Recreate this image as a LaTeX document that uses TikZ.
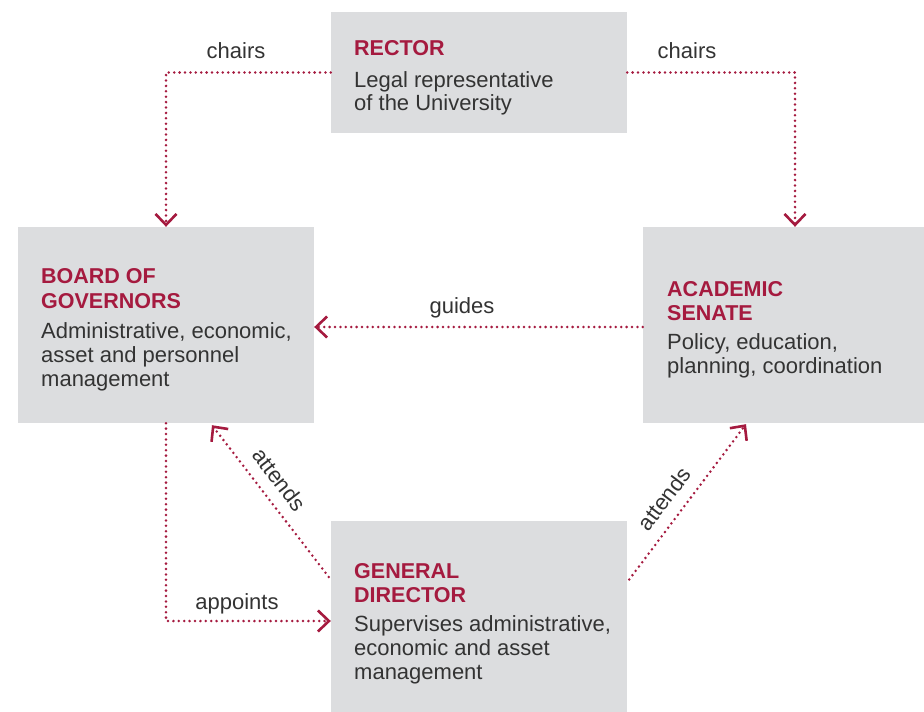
\documentclass[tikz,border=0pt]{standalone}
\usepackage{fontspec}
\setmainfont{Liberation Sans}
\usetikzlibrary{arrows.meta}
\definecolor{boxgray}{HTML}{DCDDDF}
\definecolor{ured}{HTML}{A51A3F}
\definecolor{txt}{HTML}{333333}
\tikzset{
  box/.style={fill=boxgray, draw=none, inner sep=0pt, minimum width=296pt},
  ln/.style={anchor=base west, inner sep=0pt, text=txt, font=\fontsize{22}{24}\selectfont},
  hd/.style={anchor=base west, inner sep=0pt, text=ured, font=\fontsize{21.5}{24}\selectfont\bfseries},
  lbl/.style={inner sep=0pt, text=txt, font=\fontsize{22}{24}\selectfont},
  conn/.style={draw=ured, line width=2.8pt, line cap=round, dash pattern=on 0pt off 5.4pt},
  tip/.style={-{Straight Barb[length=11pt,width=21pt,line width=2.6pt]}}
}
\begin{document}
\begin{tikzpicture}[x=1pt,y=-1pt]
\path[use as bounding box, fill=white] (0,0) rectangle (924,712);
% boxes
\node[box, minimum height=121pt] (rector) at (479,72.5) {};
\node[box, minimum height=196pt] (board) at (166,325) {};
\node[box, minimum width=281pt, minimum height=196pt] (senate) at (783.5,325) {};
\node[box, minimum height=191pt] (gd) at (479,616.5) {};
% rector text
\node[hd] (r1) at (354,55) {RECTOR};
\node[ln] (r2) at (354,87) {Legal representative};
\node[ln] (r3) at (354,110) {of the University};
% board text
\node[hd] (b1) at (41,283) {BOARD OF};
\node[hd] (b2) at (41,308) {GOVERNORS};
\node[ln] (b3) at (41,338) {Administrative, economic,};
\node[ln] (b4) at (41,362) {asset and personnel};
\node[ln] (b5) at (41,386) {management};
% senate text
\node[hd] (s1) at (667,296) {ACADEMIC};
\node[hd] (s2) at (667,320) {SENATE};
\node[ln] (s3) at (667,349) {Policy, education,};
\node[ln] (s4) at (667,373) {planning, coordination};
% general director text
\node[hd] (g1) at (354,578) {GENERAL};
\node[hd] (g2) at (354,602) {DIRECTOR};
\node[ln] (g3) at (354,631) {Supervises administrative,};
\node[ln] (g4) at (354,655) {economic and asset};
\node[ln] (g5) at (354,679) {management};
% connectors
\draw[conn, tip] (rector.west) -| (board.north);
\node[lbl, anchor=base] (l1) at (236,58) {chairs};
\draw[conn, tip] (rector.east) -| ([xshift=11.5pt]senate.north);
\node[lbl, anchor=base] (l2) at (687,58) {chairs};
\draw[conn, tip] ([yshift=-2pt]senate.west) -- ([yshift=-2pt]board.east);
\node[lbl, anchor=base] (l3) at (462,313) {guides};
\draw[conn, tip] (board.south) |- ([yshift=-4.5pt]gd.west);
\node[lbl, anchor=base] (l4) at (237,609) {appoints};
\draw[conn, tip] ([xshift=-2pt,yshift=39.5pt]gd.west) -- node[lbl, sloped, above=11pt, pos=0.56] (l5) {attends} ([xshift=46pt,yshift=-2pt]board.south);
\draw[conn, tip] ([xshift=2pt,yshift=37pt]gd.east) -- node[lbl, sloped, above=11pt, pos=0.44] (l6) {attends} ([xshift=-37.5pt,yshift=-1pt]senate.south);
\end{tikzpicture}
\end{document}
